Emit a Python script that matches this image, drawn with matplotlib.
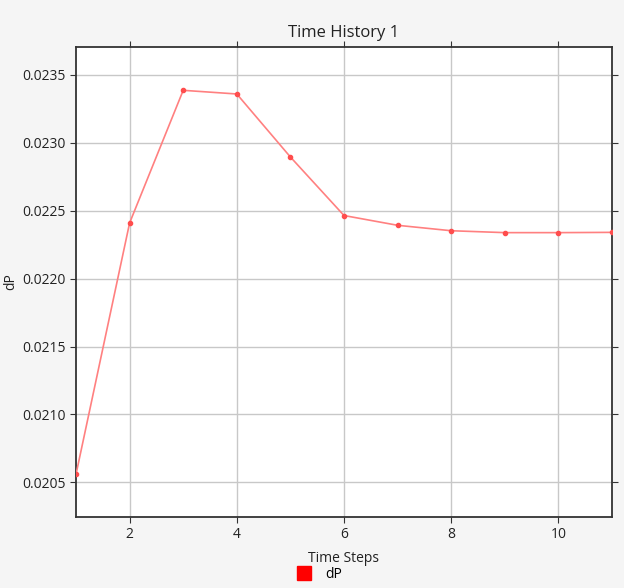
import matplotlib.pyplot as plt
from matplotlib.lines import Line2D

steps = [1, 2, 3, 4, 5, 6, 7, 8, 9, 10, 11]
dp = [0.020559, 0.022410, 0.023387, 0.023360, 0.022896, 0.022465,
      0.022393, 0.022353, 0.022339, 0.022339, 0.022341]
xticks = [2, 4, 6, 8, 10]
yticks = [0.0205, 0.0210, 0.0215, 0.0220, 0.0225, 0.0230, 0.0235]

plt.rcParams['font.family'] = ['Open Sans', 'DejaVu Sans']

fig = plt.figure(figsize=(6.24, 5.88), dpi=100, facecolor='#f5f5f5')
ax = fig.add_axes([76 / 624, 1 - 517 / 588, 536 / 624, 470 / 588])
ax.set_facecolor('white')

ax.plot(steps, dp, color='#ff8080', lw=1.2, marker='o', ms=3,
        mfc='#ff4d4d', mec='#ff4d4d', zorder=3)

ax.set_xlim(1, 11)
ax.set_ylim(0.020245, 0.023706)
ax.set_xticks(xticks)
ax.set_yticks(yticks)
ax.set_yticklabels([f'{v:.4f}' for v in yticks])
ax.grid(True, color='#c8c8c8', lw=1)
ax.set_axisbelow(True)
for s in ax.spines.values():
    s.set_color('#333333')
    s.set_linewidth(1.3)
ax.tick_params(axis='both', labelsize=10, colors='#333333', labelcolor='#222222',
               top=True, right=True, length=4)

ax.set_title('Time History 1', fontsize=12, color='#222222', pad=7)
ax.set_xlabel('Time Steps', fontsize=10, color='#222222', labelpad=6)
ax.set_ylabel('dP', fontsize=10, color='#222222')
ax.yaxis.set_label_coords(-58 / 536, 0.5)

handle = Line2D([], [], ls='none', marker='s', ms=10, color='red')
fig.legend([handle], ['dP'], loc='center', bbox_to_anchor=(316 / 624, 1 - 574 / 588),
           frameon=False, fontsize=10, handletextpad=0.5)

plt.savefig('out.png', dpi=100, facecolor=fig.get_facecolor())
